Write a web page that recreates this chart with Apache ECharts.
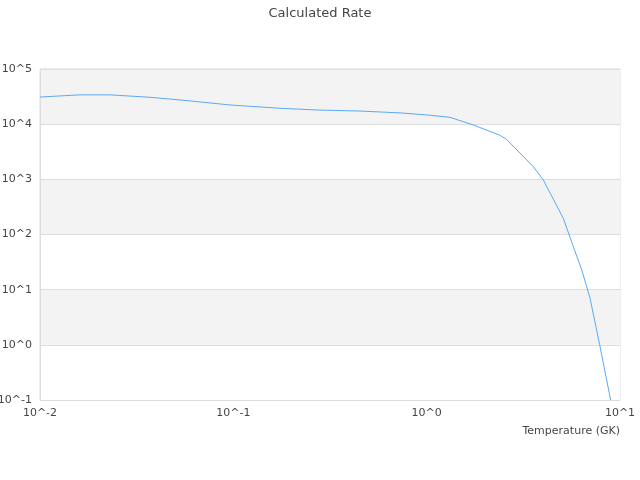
<!DOCTYPE html>
<html>
<head>
<meta charset="utf-8">
<script src="https://cdn.jsdelivr.net/npm/echarts@6/dist/echarts.min.js"></script>
<style>html,body{margin:0;padding:0;background:#fff;}#c{width:640px;height:480px;}</style>
</head>
<body>
<div id="c"></div>
<script>
var temperatures = [0.01, 0.016, 0.023, 0.037, 0.053, 0.096, 0.174, 0.28, 0.45, 0.73, 1.0, 1.32, 1.74, 2.39, 2.59, 3.56, 4.01, 5.09, 5.74, 6.34, 7.0, 7.85, 8.95];
var rates = [3.1e4, 3.4e4, 3.4e4, 3.07e4, 2.75e4, 2.23e4, 1.94e4, 1.8e4, 1.73e4, 1.6e4, 1.47e4, 1.33e4, 9.7e3, 6.3e3, 5.3e3, 1.7e3, 980, 196, 60, 22.8, 7.0, 1.0, 0.1];
var titleText = 'Calculated Rate';
var xName = 'Temperature (GK)';

var FONT = 'DejaVu Sans';
var chart = echarts.init(document.getElementById('c'));
function pow10Label(v) { return '10^' + Math.round(Math.log10(v)); }
var pts = temperatures.map(function (t, i) { return [t, rates[i]]; });
chart.setOption({
  animation: false,
  textStyle: { fontFamily: FONT },
  title: { text: titleText, left: 'center', top: 2, textStyle: { fontFamily: FONT, fontSize: 13, fontWeight: 'normal', color: '#464646' } },
  grid: { left: 40, right: 20, top: 69, bottom: 80, containLabel: false, outerBoundsMode: 'none', show: true, borderColor: '#dddddd', borderWidth: 1, backgroundColor: 'transparent' },
  xAxis: {
    type: 'log', min: 0.01, max: 10, logBase: 10,
    name: xName, nameLocation: 'end', nameGap: 0,
    nameTextStyle: { fontFamily: FONT, align: 'right', verticalAlign: 'top', padding: [26, 0, 0, 0], color: '#464646', fontSize: 11 },
    axisLine: { lineStyle: { color: '#dddddd' } },
    axisTick: { show: false },
    axisLabel: { formatter: pow10Label, fontFamily: FONT, color: '#464646', fontSize: 11, margin: 8 },
    splitLine: { show: false }
  },
  yAxis: {
    type: 'log', min: 0.1, max: 1e5, logBase: 10,
    axisLine: { show: true, lineStyle: { color: '#dddddd' } },
    axisTick: { show: false },
    axisLabel: { formatter: pow10Label, fontFamily: FONT, color: '#464646', fontSize: 11, margin: 8 },
    splitLine: { show: true, lineStyle: { color: '#dddddd' } },
    splitArea: { show: true, areaStyle: { color: ['#ffffff', '#f3f3f3'] } }
  },
  series: [{
    type: 'line', data: pts, showSymbol: false, symbol: 'none',
    lineStyle: { color: '#5aa9f5', width: 1 }, itemStyle: { color: '#5aa9f5' }
  }]
});
</script>
</body>
</html>
